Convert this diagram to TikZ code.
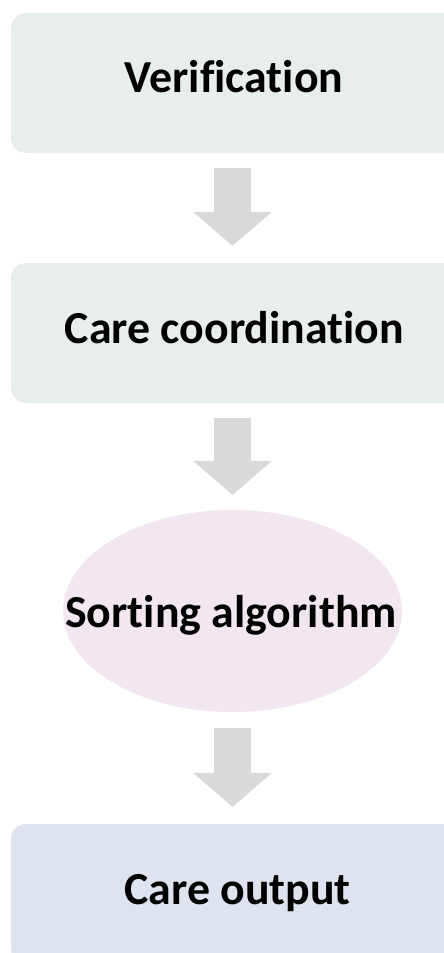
\documentclass[tikz,border=0pt]{standalone}
\usepackage{fontspec}
\setmainfont{Carlito}[Ligatures=NoCommon]
\usetikzlibrary{shapes.geometric,arrows.meta,calc}
\definecolor{boxgreen}{RGB}{232,239,234}
\definecolor{ellpink}{RGB}{242,230,240}
\definecolor{boxblue}{RGB}{222,227,240}
\definecolor{arrowgray}{RGB}{217,217,217}
\tikzset{
  stagebox/.style={rectangle, rounded corners=15bp, draw=none, inner sep=0pt,
    minimum width=460bp, minimum height=140bp},
  label text/.style={inner sep=0pt, anchor=base, font=\fontsize{46}{52}\selectfont\bfseries, text=black},
  flow/.style={draw=arrowgray, line width=37bp,
    -{Triangle[length=34bp, width=79bp, line width=0pt]}}
}
\begin{document}
\begin{tikzpicture}[x=1bp, y=-1bp]
\useasboundingbox (0,0) rectangle (444,953);
\clip (0,0) rectangle (444,953);
\node[stagebox, fill=boxgreen] (b1) at (241,83) {};
\node[stagebox, fill=boxgreen] (b2) at (241,333) {};
\node[ellipse, draw=none, fill=ellpink, inner sep=0pt, minimum width=339bp, minimum height=202bp] (ell) at (232.5,611) {};
\node[stagebox, fill=boxblue] (b4) at (241,894) {};
\node[label text] (t1) at ($(b1.center)+(-7,9)$) {Verification};
\node[label text] (t2) at ($(b2.center)+(-6.5,10)$) {Care coordination};
\node[label text] (t3) at ($(ell.center)+(-1.5,16)$) {Sorting algorithm};
\node[label text] (t4) at ($(b4.center)+(-3.5,10)$) {Care output};
\draw[flow, shorten <=15bp, shorten >=17bp] (b1.south -| ell.center) -- (b2.north -| ell.center);
\draw[flow, shorten <=15bp, shorten >=15bp] (b2.south -| ell.center) -- (ell.north);
\draw[flow, shorten <=16bp, shorten >=17bp] (ell.south) -- (b4.north -| ell.center);
\end{tikzpicture}
\end{document}
